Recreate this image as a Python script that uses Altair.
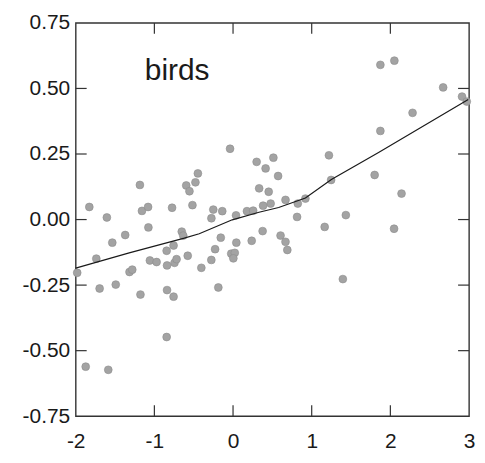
import altair as alt
import pandas as pd

# scatter points (birds)
pt_x = [-1.981, -1.827, -1.738, -1.696, -1.604, -1.535, -1.491, -1.371, -1.316, -1.281,
        -1.184, -1.158, -1.080, -1.076, -1.177, -1.057, -0.972, -0.844, -0.756, -0.839,
        -0.744, -0.718, -0.839, -0.756, -0.844, -1.873, -1.586, -0.775, -0.652, -0.633,
        -0.595, -0.554, -0.478, -0.447, -0.516, -0.576, -0.403, -0.276, -0.228, -0.156,
        -0.275, -0.251, -0.137, -0.038, -0.023, 0.022, 0.004, 0.042, 0.237, 0.376,
        -0.187, 0.038, 0.177, 0.256, 0.300, 0.414, 0.513, 0.573, 0.332, 0.453,
        0.382, 0.478, 0.604, 0.667, 0.690, 0.667, 0.823, 0.920, 0.814, 1.219,
        1.247, 1.434, 1.165, 1.396, 1.800, 1.873, 1.873, 2.051, 2.047, 2.142,
        2.282, 2.671, 2.911, 2.971]
pt_y = [-0.203, 0.048, -0.149, -0.263, 0.008, -0.088, -0.248, -0.059, -0.200, -0.191,
        0.132, 0.033, 0.048, -0.030, -0.286, -0.156, -0.162, -0.119, -0.099, -0.175,
        -0.165, -0.151, -0.269, -0.294, -0.448, -0.561, -0.573, 0.045, -0.046, -0.061,
        0.130, 0.108, 0.142, 0.176, 0.055, -0.138, -0.184, -0.154, -0.113, -0.069,
        0.005, 0.038, 0.032, 0.270, -0.130, -0.127, -0.148, -0.088, -0.081, -0.044,
        -0.259, 0.016, 0.032, 0.034, 0.220, 0.195, 0.236, 0.166, 0.119, 0.106,
        0.053, 0.061, -0.061, -0.085, -0.116, 0.075, 0.061, 0.080, 0.010, 0.245,
        0.151, 0.017, -0.028, -0.227, 0.170, 0.338, 0.590, 0.606, -0.035, 0.099,
        0.407, 0.504, 0.469, 0.450]

# smooth fit line
line_x = [-2.0, -1.32, -0.62, -0.43, -0.01, 0.33, 0.58, 0.92, 1.25, 1.55, 1.85, 2.99]
line_y = [-0.185, -0.127, -0.071, -0.054, -0.001, 0.028, 0.046, 0.082, 0.153, 0.204, 0.256, 0.458]

# axes
x_label_vals = [-2, -1, 0, 1, 2, 3]
y_label_vals = [-0.75, -0.5, -0.25, 0, 0.25, 0.5, 0.75]
x_tick_vals = [-1, 0, 1, 2]
y_tick_vals = [-0.5, -0.25, 0, 0.25, 0.5]

# panel label
label_text = ["birds"]
label_x = [-0.71]
label_y = [0.534]

W = 395
H = 395
TICK = 11
FONT = "Liberation Sans"
INK = "#1a1a1a"

xscale = alt.Scale(domain=[-2, 3], nice=False, zero=False)
yscale = alt.Scale(domain=[-0.75, 0.75], nice=False, zero=False)

xaxis = alt.Axis(values=x_label_vals, ticks=False, domain=False, grid=False, title=None,
                 labelFontSize=21, labelFont=FONT, labelColor=INK, labelPadding=14,
                 labelFlush=False, labelOverlap=False,
                 labelExpr="datum.value < 0 ? '-' + format(-datum.value, 'd') : format(datum.value, 'd')")
yaxis = alt.Axis(values=y_label_vals, ticks=False, domain=False, grid=False, title=None,
                 labelFontSize=21, labelFont=FONT, labelColor=INK, labelPadding=6,
                 labelFlush=False, labelOverlap=False,
                 labelExpr="datum.value < 0 ? '-' + format(-datum.value, '.2f') : format(datum.value, '.2f')")

X = alt.X("x:Q", scale=xscale, axis=xaxis)
Y = alt.Y("y:Q", scale=yscale, axis=yaxis)

df_pts = pd.DataFrame({"x": pt_x, "y": pt_y})
df_line = pd.DataFrame({"x": line_x, "y": line_y})
df_txt = pd.DataFrame({"x": label_x, "y": label_y, "t": label_text})
df_xt = pd.DataFrame({"x": x_tick_vals})
df_yt = pd.DataFrame({"y": y_tick_vals})

pts = alt.Chart(df_pts).mark_circle(size=62, color="#a3a3a3", opacity=1,
                                    stroke="#8c8c8c", strokeWidth=0.6).encode(x=X, y=Y)
line = alt.Chart(df_line).mark_line(color=INK, strokeWidth=1.2).encode(x=X, y=Y)
txt = alt.Chart(df_txt).mark_text(fontSize=30, font=FONT, align="center",
                                  baseline="alphabetic", color=INK).encode(x=X, y=Y, text="t:N")

tick_style = dict(color="#333333", strokeWidth=1.2)
t_bottom = alt.Chart(df_xt).mark_rule(**tick_style).encode(x=X, y=alt.value(H), y2=alt.value(H - TICK))
t_top = alt.Chart(df_xt).mark_rule(**tick_style).encode(x=X, y=alt.value(0), y2=alt.value(TICK))
t_left = alt.Chart(df_yt).mark_rule(**tick_style).encode(y=Y, x=alt.value(0), x2=alt.value(TICK))
t_right = alt.Chart(df_yt).mark_rule(**tick_style).encode(y=Y, x=alt.value(W), x2=alt.value(W - TICK))

chart = alt.layer(pts, line, txt, t_bottom, t_top, t_left, t_right).properties(
    width=W, height=H,
    autosize=alt.AutoSizeParams(type="none"),
    padding={"left": 68, "top": 14, "right": 8, "bottom": 40},
).configure_view(stroke="#333333", strokeWidth=1.4)

chart.save("out.html", embed_options={"renderer": "svg", "actions": False})
